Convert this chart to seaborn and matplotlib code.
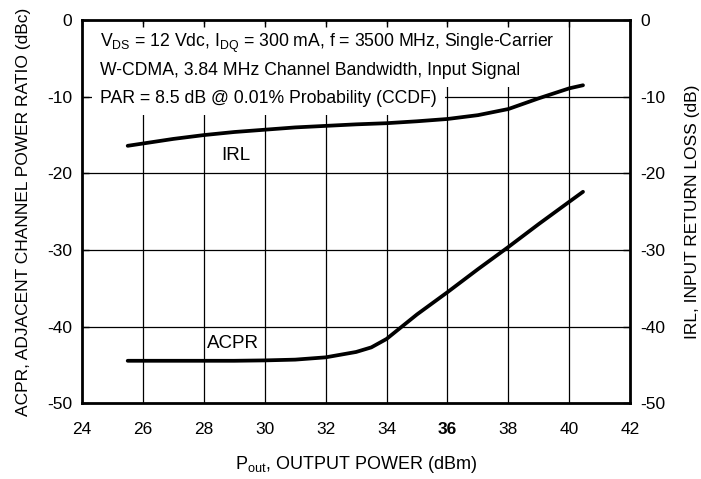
import numpy as np
import pandas as pd
import matplotlib
matplotlib.use("Agg")
import matplotlib.pyplot as plt
import seaborn as sns
from matplotlib import font_manager

# Data
pout = [25.5, 26, 27, 28, 29, 30, 31, 32, 33, 33.5, 34, 34.5, 35, 36, 37, 38, 39, 40, 40.45]
acpr = [-44.45, -44.45, -44.45, -44.45, -44.45, -44.4, -44.3, -44.0, -43.3, -42.7, -41.6,
        -40.0, -38.4, -35.5, -32.5, -29.6, -26.6, -23.7, -22.4]
irl_pout = [25.5, 26, 27, 28, 29, 30, 31, 32, 33, 34, 35, 36, 37, 38, 39, 40, 40.45]
irl = [-16.4, -16.1, -15.5, -15.0, -14.6, -14.3, -14.0, -13.8, -13.6, -13.45, -13.2, -12.9,
       -12.4, -11.6, -10.2, -8.9, -8.5]

x_ticks = [24, 26, 28, 30, 32, 34, 36, 38, 40, 42]
y_ticks = [0, -10, -20, -30, -40, -50]

note_lines = [
    r"V$_{\mathregular{DS}}$ = 12 Vdc, I$_{\mathregular{DQ}}$ = 300 mA, f = 3500 MHz, Single-Carrier",
    "W-CDMA, 3.84 MHz Channel Bandwidth, Input Signal",
    "PAR = 8.5 dB @ 0.01% Probability (CCDF)",
]

sns.set_theme(style="white")
names = {f.name for f in font_manager.fontManager.ttflist}
narrow = "Liberation Sans Narrow" if "Liberation Sans Narrow" in names else "Liberation Sans"
plt.rcParams["font.family"] = [narrow, "DejaVu Sans"]
plt.rcParams["mathtext.fontset"] = "custom"
plt.rcParams["mathtext.rm"] = narrow
for key in ["text.color", "axes.labelcolor", "xtick.color", "ytick.color", "axes.edgecolor"]:
    plt.rcParams[key] = "black"

fig = plt.figure(figsize=(7.01, 4.79), dpi=100)
ax = fig.add_axes([0.117, 0.158, 0.782, 0.800])

# grid drawn by hand so the note boxes can sit on top of it
for xv in x_ticks[1:-1]:
    ax.axvline(xv, color="black", lw=0.9, zorder=1)
for yv in y_ticks[1:-1]:
    ax.axhline(yv, color="black", lw=0.9, zorder=1)

df_acpr = pd.DataFrame({"pout": pout, "val": acpr})
df_irl = pd.DataFrame({"pout": irl_pout, "val": irl})
sns.lineplot(data=df_irl, x="pout", y="val", color="black", lw=2.7, ax=ax, zorder=4)
sns.lineplot(data=df_acpr, x="pout", y="val", color="black", lw=2.7, ax=ax, zorder=4)

ax.set_xlim(24, 42)
ax.set_ylim(-50, 0)
ax.set_xticks(x_ticks)
ax.set_yticks(y_ticks)
ax.set_xticklabels([str(t) for t in x_ticks], fontsize=12.5)
ax.set_yticklabels([str(t) for t in y_ticks], fontsize=12.5)
for lbl in ax.get_xticklabels():
    if lbl.get_text() == "36":
        lbl.set_fontweight("bold")
ax.tick_params(axis="both", direction="in", length=5, width=1.0, color="black",
               top=True, right=False)
ax.tick_params(axis="y", pad=7)
ax.tick_params(axis="x", pad=13.5)
for s in ax.spines.values():
    s.set_color("black")
    s.set_linewidth(2.0)
ax.set_axisbelow(False)

ax.set_xlabel(r"P$_{\mathregular{out}}$, OUTPUT POWER (dBm)", fontsize=13, labelpad=12)
ax.set_ylabel("ACPR, ADJACENT CHANNEL POWER RATIO (dBc)", fontsize=12.5,
              family=["Liberation Sans", "DejaVu Sans"])
ax.yaxis.set_label_coords(-0.093, 0.5)

ax2 = ax.twinx()
ax2.set_ylim(-50, 0)
ax2.set_yticks(y_ticks)
ax2.set_yticklabels([str(t) for t in y_ticks], fontsize=12.5)
ax2.tick_params(axis="y", direction="in", length=5, width=1.0, color="black", pad=7)
for s in ax2.spines.values():
    s.set_visible(False)
ax2.set_ylabel("IRL, INPUT RETURN LOSS (dB)", fontsize=12.5,
               family=["Liberation Sans", "DejaVu Sans"])
ax2.yaxis.set_label_coords(1.100, 0.5)

for i, line in enumerate(note_lines):
    ax.text(24.59, -3.56 - i * 3.61, line, fontsize=12.7, va="baseline", ha="left", zorder=2,
            bbox=dict(facecolor="white", edgecolor="none", pad=6))

ax.text(29.04, -17.7, "IRL", fontsize=13.5, ha="center", va="center", zorder=5)
ax.text(28.97, -42.2, "ACPR", fontsize=13.5, ha="center", va="center", zorder=5)

fig.savefig("out.png", dpi=100)
